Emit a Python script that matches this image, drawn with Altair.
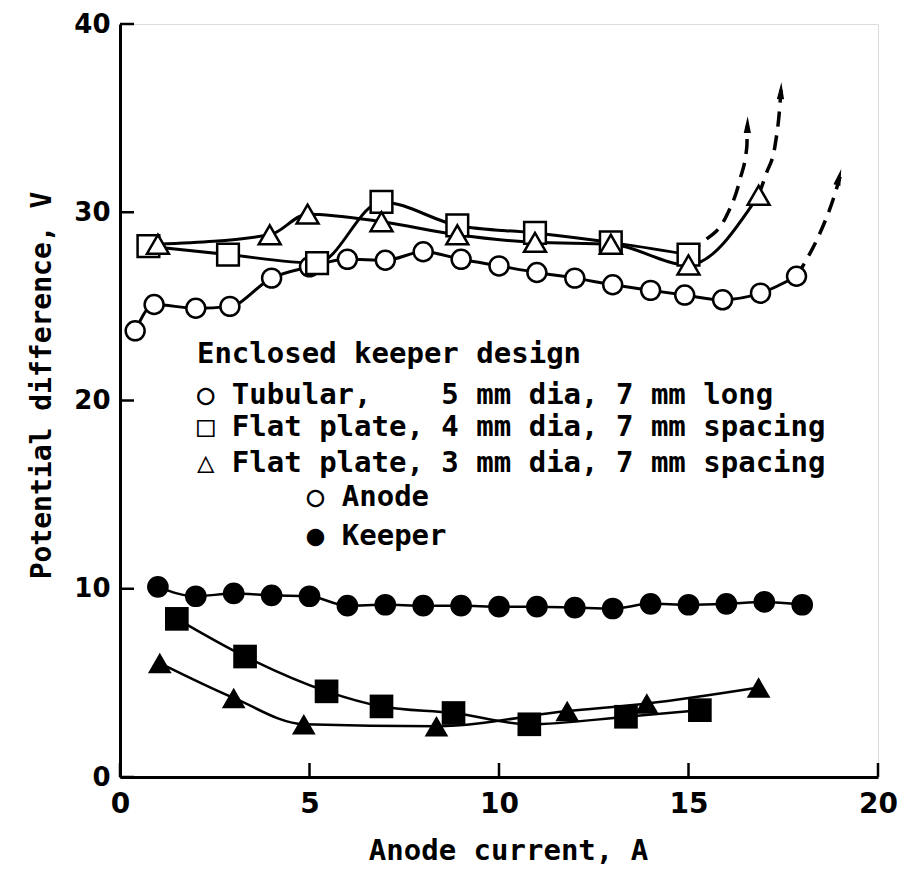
import altair as alt
import pandas as pd

# ---------------- data ----------------
x_ticks = [0, 5, 10, 15, 20]
y_ticks = [0, 10, 20, 30, 40]

# Anode (open symbols)
tub_anode_x = [0.4, 0.9, 2.0, 2.9, 4.0, 5.0, 6.0, 7.0, 8.0, 9.0, 10.0, 11.0, 12.0, 13.0, 14.0, 14.9, 15.9, 16.9, 17.85]
tub_anode_y = [23.7, 25.1, 24.9, 25.0, 26.5, 27.1, 27.5, 27.45, 27.9, 27.5, 27.15, 26.8, 26.5, 26.15, 25.85, 25.6, 25.35, 25.7, 26.6]

sq_anode_x = [0.75, 2.85, 5.2, 6.9, 8.9, 10.95, 12.95, 15.0]
sq_anode_y = [28.2, 27.75, 27.3, 30.55, 29.3, 28.9, 28.4, 27.75]

tri_anode_x = [1.0, 3.95, 4.95, 6.9, 8.9, 10.95, 12.95, 15.0, 16.85]
tri_anode_y = [28.3, 28.8, 29.9, 29.5, 28.8, 28.4, 28.3, 27.2, 30.9]

# Keeper (filled symbols)
tub_keeper_x = [1, 2, 3, 4, 5, 6, 7, 8, 9, 10, 11, 12, 13, 14, 15, 16, 17, 18]
tub_keeper_y = [10.1, 9.6, 9.75, 9.65, 9.6, 9.1, 9.15, 9.1, 9.1, 9.05, 9.05, 9.0, 8.95, 9.2, 9.15, 9.2, 9.3, 9.15]

sq_keeper_x = [1.5, 3.3, 5.45, 6.9, 8.8, 10.8, 13.35, 15.3]
sq_keeper_y = [8.4, 6.4, 4.55, 3.75, 3.4, 2.8, 3.2, 3.55]

tri_keeper_x = [1.05, 3.0, 4.85, 8.35, 11.8, 13.9, 16.85]
tri_keeper_y = [6.05, 4.2, 2.8, 2.7, 3.5, 3.9, 4.75]

# Dashed extrapolations (runaway) with arrows
tub_dash_x = [17.85, 18.12, 18.47, 18.82, 19.0]
tub_dash_y = [26.6, 27.5, 28.9, 30.7, 31.9]
sq_dash_x = [15.0, 15.3, 16.0, 16.36, 16.54, 16.55]
sq_dash_y = [27.75, 28.3, 29.8, 31.75, 33.5, 34.6]
tri_dash_x = [16.85, 17.06, 17.28, 17.41, 17.44]
tri_dash_y = [30.9, 32.1, 33.5, 35.65, 36.5]

arrow_x = [19.03, 16.56, 17.45]
arrow_y = [32.3, 35.1, 36.9]
arrow_angle = [15, 1, 3]

NB = "\u00a0"
legend_text = [
    "Enclosed keeper design",
    "\u25cb Tubular," + NB * 4 + "5 mm dia, 7 mm long",
    "\u25a1 Flat plate, 4 mm dia, 7 mm spacing",
    "\u25b3 Flat plate, 3 mm dia, 7 mm spacing",
    "\u25cb Anode",
    "\u25cf Keeper",
]
legend_x = [2.03, 2.03, 2.03, 2.03, 4.93, 4.93]
legend_y = [22.0, 19.8, 18.1, 16.2, 14.4, 12.35]

# ---------------- encodings ----------------
W, H = 758, 753
MONO = "DejaVu Sans Mono"

x_scale = alt.Scale(domain=[0, 20], nice=False, zero=False)
y_scale = alt.Scale(domain=[0, 40], nice=False, zero=False)

x_axis = alt.Axis(
    values=x_ticks, ticks=False, grid=False,
    domainColor="black", domainWidth=3,
    labelFont="DejaVu Sans", labelFontSize=28, labelFontWeight="bold", labelColor="black",
    labelPadding=13, labelFlush=False,
    title="Anode current, A", titleFont=MONO, titleFontSize=29,
    titleFontWeight="bold", titleColor="black",
    titleX=388, titleY=73, titleBaseline="middle", titleAlign="center",
)
y_axis = alt.Axis(
    values=y_ticks, ticks=False, grid=False,
    domainColor="black", domainWidth=3,
    labelFont="DejaVu Sans", labelFontSize=26, labelFontWeight="bold",
    labelColor="black", labelPadding=10, labelFlush=False,
    title="Potential difference, V", titleFont=MONO, titleFontSize=28,
    titleFontWeight="bold", titleColor="black",
    titleAngle=270, titleX=-70, titleY=361,
    titleBaseline="alphabetic", titleAlign="center",
)

X = alt.X("x:Q", scale=x_scale, axis=x_axis)
Y = alt.Y("y:Q", scale=y_scale, axis=y_axis)


def df(xs, ys):
    return pd.DataFrame({"x": xs, "y": ys, "i": list(range(len(xs)))})


def line(xs, ys, width=3, interp="monotone", dash=None):
    kw = dict(color="black", strokeWidth=width, interpolate=interp)
    if dash:
        kw["strokeDash"] = dash
    return alt.Chart(df(xs, ys)).mark_line(**kw).encode(x=X, y=Y, order="i:Q")


def pts(xs, ys, shape, size, filled):
    if filled:
        m = alt.Chart(df(xs, ys)).mark_point(
            shape=shape, size=size, filled=True, color="black", opacity=1)
    else:
        m = alt.Chart(df(xs, ys)).mark_point(
            shape=shape, size=size, filled=True, fill="white",
            stroke="black", strokeWidth=2.5, opacity=1)
    return m.encode(x=X, y=Y)


layers = [
    # anode curves
    line(tub_anode_x, tub_anode_y),
    line(sq_anode_x, sq_anode_y),
    line(tri_anode_x, tri_anode_y),
    # runaway dashed curves
    line(tub_dash_x, tub_dash_y, width=3.5, dash=[15, 9]),
    line(sq_dash_x, sq_dash_y, width=3.5, dash=[15, 9]),
    line(tri_dash_x, tri_dash_y, width=3.5, dash=[15, 9]),
    # keeper curves
    line(tub_keeper_x, tub_keeper_y, width=2.5),
    line(sq_keeper_x, sq_keeper_y, width=2.5),
    line(tri_keeper_x, tri_keeper_y, width=2.5),
]

# arrowheads
arrows = alt.Chart(pd.DataFrame({"x": arrow_x, "y": arrow_y, "a": arrow_angle})).mark_point(
    shape="M0,0L0.45,2.1L-0.45,2.1Z", size=256, filled=True, color="black", opacity=1
).encode(x=X, y=Y, angle=alt.Angle("a:Q", scale=None))
layers.append(arrows)

# markers
layers += [
    pts(tub_anode_x, tub_anode_y, "circle", 360, False),
    pts(sq_anode_x, sq_anode_y, "square", 470, False),
    pts(tri_anode_x, tri_anode_y, "triangle-up", 480, False),
    pts(tub_keeper_x, tub_keeper_y, "circle", 470, True),
    pts(sq_keeper_x, sq_keeper_y, "square", 560, True),
    pts(tri_keeper_x, tri_keeper_y, "triangle-up", 560, True),
]

# inward ticks
xt = alt.Chart(pd.DataFrame({"x": x_ticks})).mark_rule(color="black", strokeWidth=2.5).encode(
    x=X, y=alt.value(H), y2=alt.value(H - 14))
yt = alt.Chart(pd.DataFrame({"y": y_ticks})).mark_rule(color="black", strokeWidth=2.5).encode(
    y=Y, x=alt.value(0), x2=alt.value(14))
layers += [xt, yt]

# legend text
leg = alt.Chart(pd.DataFrame({"x": legend_x, "y": legend_y, "t": legend_text})).mark_text(
    align="left", baseline="alphabetic", font=MONO, fontSize=29, fontWeight="bold", color="black"
).encode(x=X, y=Y, text="t:N")
layers.append(leg)

chart = alt.layer(*layers).properties(
    width=W, height=H,
    autosize=alt.AutoSizeParams(type="none"),
    padding={"left": 120, "top": 24, "right": 26, "bottom": 99},
).configure_view(stroke=None).configure(background="white")

chart.save("out.html", embed_options={"renderer": "svg", "actions": False})
